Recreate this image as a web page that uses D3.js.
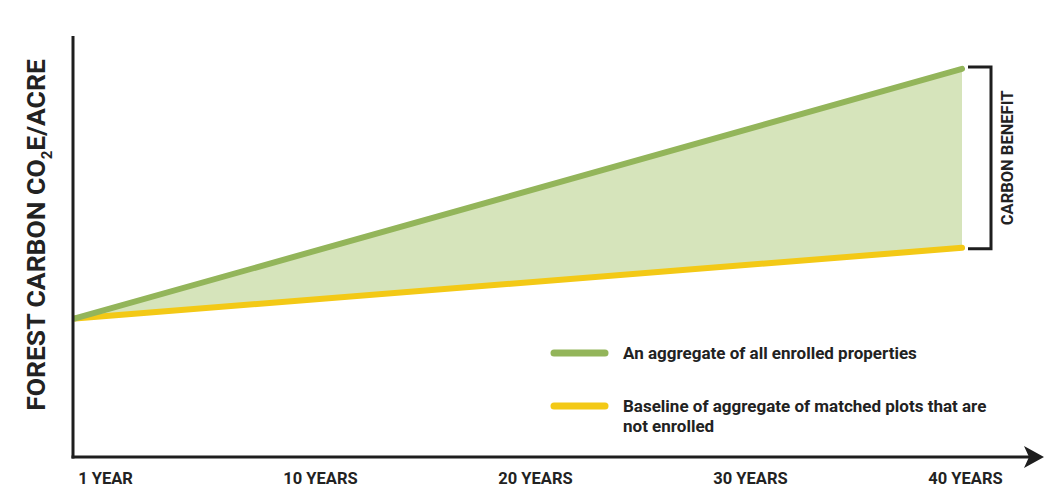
<!DOCTYPE html>
<html>
<head>
<meta charset="utf-8">
<script src="https://cdn.jsdelivr.net/npm/d3@7"></script>
<style>
  body { margin: 0; background: #fff; }
  svg text { font-family: Roboto, "Liberation Sans", sans-serif; font-weight: 700; fill: #222; }
</style>
</head>
<body>
<svg id="chart" width="1045" height="490"></svg>
<script>
// data (arbitrary carbon units)
var years = [1, 40];
var enrolled = [33, 92.4];
var baseline = [33, 49.8];
var tickLabels = ["1 YEAR", "10 YEARS", "20 YEARS", "30 YEARS", "40 YEARS"];
var legendLabels = [
  ["An aggregate of all enrolled properties"],
  ["Baseline of aggregate of matched plots that are", "not enrolled"]
];

var green = "#93b55a";
var fillGreen = "#d6e4bb";
var yellow = "#f3c916";
var ink = "#1e1e1e";

var svg = d3.select("#chart");

var xScale = d3.scaleLinear().domain([1, 40]).range([75, 962]);
var yScale = d3.scaleLinear().domain([0, 100]).range([457, 37]);

// tick labels sit on their own evenly spaced scale
var labelScale = d3.scalePoint().domain(tickLabels).range([105, 965]);

var points = years.map(function (y, i) {
  return { year: y, top: enrolled[i], base: baseline[i] };
});

// shaded benefit area
var area = d3.area()
  .x(function (d) { return xScale(d.year); })
  .y0(function (d) { return yScale(d.base); })
  .y1(function (d) { return yScale(d.top); });

svg.append("path")
  .datum(points)
  .attr("d", area)
  .attr("fill", fillGreen);

var line = d3.line()
  .x(function (d) { return xScale(d[0]); })
  .y(function (d) { return yScale(d[1]); });

svg.append("path")
  .datum(years.map(function (y, i) { return [y, baseline[i]]; }))
  .attr("d", line)
  .attr("fill", "none")
  .attr("stroke", yellow)
  .attr("stroke-width", 6)
  .attr("stroke-linecap", "round");

svg.append("path")
  .datum(years.map(function (y, i) { return [y, enrolled[i]]; }))
  .attr("d", line)
  .attr("fill", "none")
  .attr("stroke", green)
  .attr("stroke-width", 6)
  .attr("stroke-linecap", "round");

// axes
var x0 = 73, yBase = 457;
svg.append("line")
  .attr("x1", x0).attr("x2", x0)
  .attr("y1", 36).attr("y2", yBase + 1.5)
  .attr("stroke", ink).attr("stroke-width", 3);

svg.append("line")
  .attr("x1", x0 - 1.5).attr("x2", 1030)
  .attr("y1", yBase).attr("y2", yBase)
  .attr("stroke", ink).attr("stroke-width", 3);

svg.append("path")
  .attr("d", "M1024,446 L1044,457 L1024,468 L1029,457 Z")
  .attr("fill", ink);

var xAxis = d3.axisBottom(labelScale).tickSize(0).tickPadding(0);
var axisG = svg.append("g")
  .attr("transform", "translate(0,472)")
  .call(xAxis);
axisG.select(".domain").remove();
axisG.selectAll("text")
  .attr("dy", "0.71em")
  .style("font-size", "16.5px")
  .style("font-family", "Roboto, sans-serif")
  .style("font-weight", 700)
  .attr("fill", "#222");

// y title
var yTitle = svg.append("text")
  .attr("transform", "translate(45,235) rotate(-90)")
  .attr("text-anchor", "middle")
  .style("font-size", "26.5px");
yTitle.append("tspan").text("FOREST CARBON CO");
yTitle.append("tspan").attr("dy", 7).style("font-size", "15px").text("2");
yTitle.append("tspan").attr("dy", -7).text("E/ACRE");

// carbon benefit bracket
var bx = xScale(40) + 6, bRight = 991;
var bTop = yScale(enrolled[1]) - 2, bBot = yScale(baseline[1]) + 1;
svg.append("path")
  .attr("d", "M" + bx + "," + bTop + " H" + bRight + " V" + bBot + " H" + bx)
  .attr("fill", "none")
  .attr("stroke", ink)
  .attr("stroke-width", 3);

svg.append("text")
  .attr("transform", "translate(1013," + ((bTop + bBot) / 2) + ") rotate(-90)")
  .attr("text-anchor", "middle")
  .style("font-size", "16.5px")
  .text("CARBON BENEFIT");

// legend
var legendY = [353, 406];
var legendColors = [green, yellow];
var lg = svg.append("g");
legendLabels.forEach(function (lines, i) {
  lg.append("line")
    .attr("x1", 554).attr("x2", 605)
    .attr("y1", legendY[i]).attr("y2", legendY[i])
    .attr("stroke", legendColors[i])
    .attr("stroke-width", 7)
    .attr("stroke-linecap", "round");
  var t = lg.append("text")
    .attr("x", 623)
    .attr("y", legendY[i])
    .style("font-size", "17px");
  lines.forEach(function (s, j) {
    t.append("tspan")
      .attr("x", 623)
      .attr("dy", j === 0 ? "0.35em" : "20px")
      .text(s);
  });
});
</script>
</body>
</html>
